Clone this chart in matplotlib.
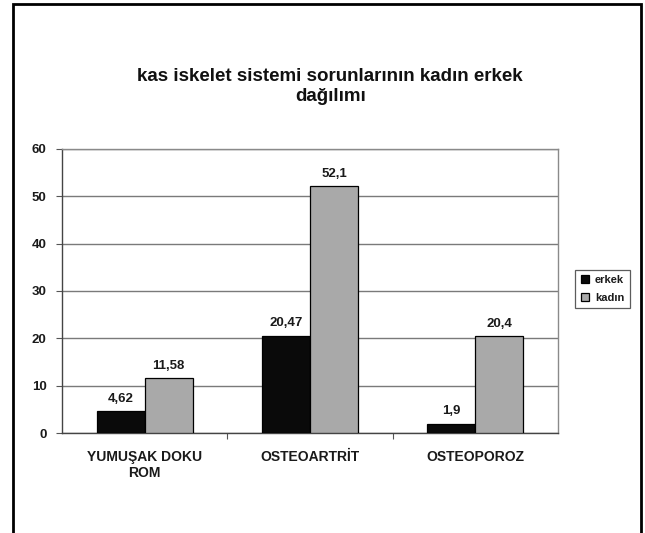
import matplotlib.pyplot as plt
import numpy as np
from matplotlib.patches import Rectangle

# kategori ve seri verileri
categories = ["YUMUŞAK DOKU\nROM", "OSTEOARTRİT", "OSTEOPOROZ"]
erkek = [4.62, 20.47, 1.9]
kadin = [11.58, 52.1, 20.4]
series_names = ["erkek", "kadın"]
y_ticks = [0, 10, 20, 30, 40, 50, 60]

plt.rcParams["font.family"] = ["Liberation Sans", "DejaVu Sans"]
txt_color = "#1a1a1a"

fig = plt.figure(figsize=(6.45, 5.33), dpi=100)
ax = fig.add_axes([0.0961, 0.1876, 0.769, 0.533])

x = np.arange(len(categories))
width = 0.29

b1 = ax.bar(x - width / 2, erkek, width, color="#0a0a0a", edgecolor="#000000",
            linewidth=0.9, label=series_names[0], zorder=3)
b2 = ax.bar(x + width / 2, kadin, width, color="#a9a9a9", edgecolor="#000000",
            linewidth=0.9, label=series_names[1], zorder=3)

# değer etiketleri (virgüllü)
for bars, vals in ((b1, erkek), (b2, kadin)):
    for bar, v in zip(bars, vals):
        ax.text(bar.get_x() + bar.get_width() / 2, v + 1.4, str(v).replace(".", ","),
                ha="center", va="bottom", fontsize=9.5, fontweight="bold", color=txt_color)

ax.set_xlim(-0.5, len(categories) - 0.5)
ax.set_ylim(0, 60)
ax.set_yticks(y_ticks)
ax.set_yticklabels([str(t) for t in y_ticks], fontsize=9.5, fontweight="bold", color=txt_color)
ax.yaxis.grid(True, color="#7a7a7a", linewidth=1.0, zorder=0)
ax.set_axisbelow(True)

ax.set_xticks(x)
ax.set_xticklabels(categories, fontsize=10, fontweight="bold", color=txt_color, linespacing=1.25)
ax.tick_params(axis="x", length=0, pad=12)
ax.tick_params(axis="y", length=4, width=0.8, color="#555555", pad=7)
# kategori sınırlarında küçük çentikler
ax.set_xticks([0.5, 1.5], minor=True)
ax.tick_params(axis="x", which="minor", length=4, width=0.8, color="#555555")

for side in ("left", "bottom"):
    ax.spines[side].set_color("#444444")
    ax.spines[side].set_linewidth(1.0)
for side in ("right", "top"):
    ax.spines[side].set_color("#8a8a8a")
    ax.spines[side].set_linewidth(1.0)

leg = ax.legend(loc="center left", bbox_to_anchor=(1.024, 0.507),
                prop={"size": 8, "weight": "bold"},
                handlelength=0.75, handleheight=0.75, handletextpad=0.5,
                borderpad=0.5, labelspacing=0.7, frameon=True, fancybox=False)
leg.get_frame().set_edgecolor("#333333")
leg.get_frame().set_linewidth(0.9)
for t in leg.get_texts():
    t.set_color(txt_color)

fig.text(0.512, 0.838, "kas iskelet sistemi sorunlarının kadın erkek\ndağılımı",
         ha="center", va="center", fontsize=13.5, fontweight="bold",
         linespacing=1.25, color="#111111")

# dış çerçeve
frame = Rectangle((13 / 645, -0.02), (641 - 13) / 645, 1 - 4 / 533 + 0.02,
                  transform=fig.transFigure, fill=False, edgecolor="#000000",
                  linewidth=2.0, clip_on=False)
fig.patches.append(frame)

fig.savefig("out.png", dpi=100)
